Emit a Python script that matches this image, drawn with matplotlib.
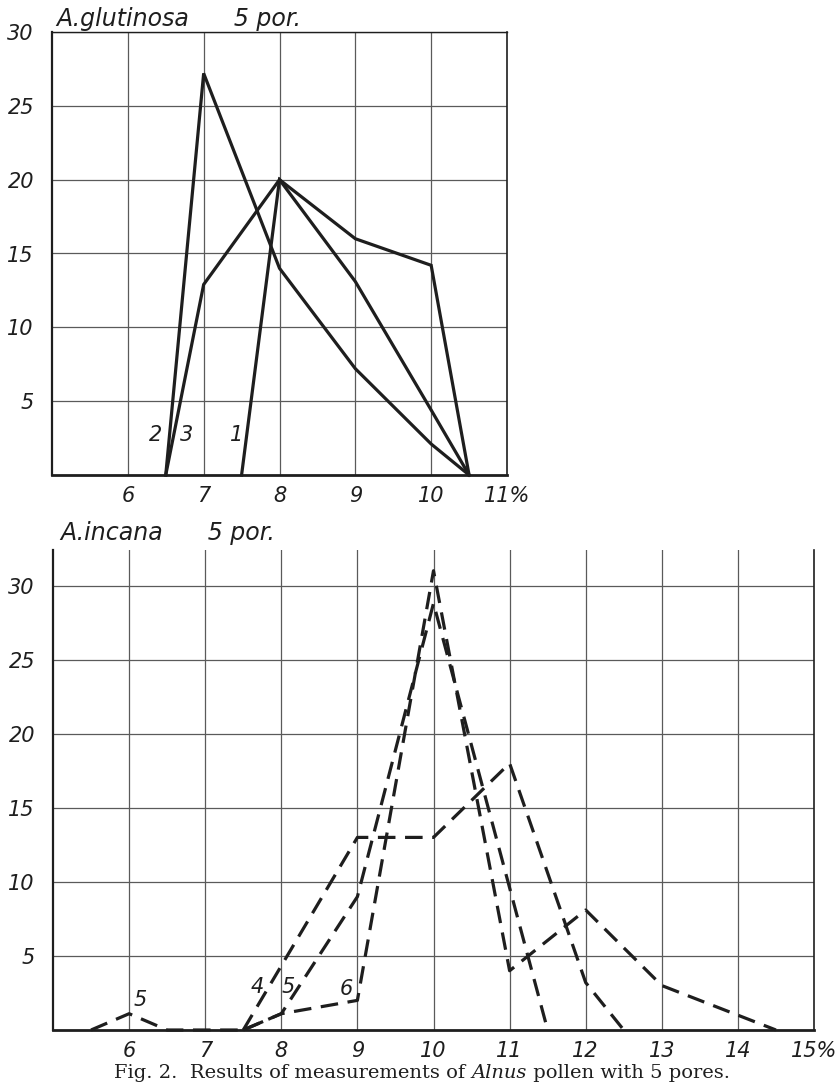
import matplotlib
matplotlib.use("Agg")
import matplotlib.pyplot as plt
from matplotlib.offsetbox import TextArea, HPacker, AnnotationBbox

# ---------------- data ----------------
# A. glutinosa, 5 pores (solid lines)
glut_x1 = [7.5, 8, 9, 10, 10.5]
glut_y1 = [0, 20.0, 16.0, 14.2, 0]
glut_x2 = [6.5, 7, 8, 9, 10, 10.5]
glut_y2 = [0, 27.2, 14.0, 7.2, 2.1, 0]
glut_x3 = [6.5, 7, 8, 9, 10, 10.5]
glut_y3 = [0, 12.9, 20.0, 13.1, 4.4, 0]
glut_labels = ["1", "2", "3"]

# A. incana, 5 pores (dashed lines)
inc_x4 = [7.5, 9, 10, 11, 12, 12.5]
inc_y4 = [0, 13.0, 13.0, 18.0, 3.2, 0]
inc_x5 = [5.5, 6, 6.5, 7.5, 8, 9, 10, 11.5]
inc_y5 = [0, 1.1, 0, 0, 1.1, 9.0, 28.8, 0]
inc_x6 = [7.5, 8, 9, 10, 11, 12, 13, 14.5]
inc_y6 = [0, 1.1, 2.0, 31.0, 4.0, 8.1, 3.0, 0]
inc_labels = ["4", "5", "6"]

top_xticks = [6, 7, 8, 9, 10, 11]
top_xticklabels = ["6", "7", "8", "9", "10", "11%"]
bot_xticks = [6, 7, 8, 9, 10, 11, 12, 13, 14, 15]
bot_xticklabels = ["6", "7", "8", "9", "10", "11", "12", "13", "14", "15%"]
yticks = [5, 10, 15, 20, 25, 30]

# ---------------- style ----------------
W, H = 838, 1086
fig = plt.figure(figsize=(W / 100, H / 100), dpi=100)
ink = "#1e1e1e"
gridc = "#5a5a5a"
lab_font = dict(family="DejaVu Sans", style="italic", fontsize=15, color=ink)


def frac(x0, y0, x1, y1):
    return [x0 / W, 1 - y1 / H, (x1 - x0) / W, (y1 - y0) / H]


def style_axes(ax, xmax, ymax, xticks, xticklabels, top_spine=True):
    ax.set_xlim(5, xmax)
    ax.set_ylim(0, ymax)
    for xv in range(6, int(xmax)):
        ax.axvline(xv, color=gridc, lw=0.9, zorder=1)
    for yv in yticks:
        ax.axhline(yv, color=gridc, lw=0.9, zorder=1)
    for s in ["left", "right", "bottom", "top"]:
        ax.spines[s].set_color(ink)
    ax.spines["left"].set_linewidth(1.6)
    ax.spines["right"].set_linewidth(1.2)
    ax.spines["bottom"].set_linewidth(2.0)
    ax.spines["top"].set_linewidth(1.0)
    ax.spines["top"].set_visible(top_spine)
    ax.set_xticks(xticks)
    ax.set_xticklabels(xticklabels, fontdict=lab_font)
    ax.set_yticks(yticks)
    ax.set_yticklabels([str(v) for v in yticks], fontdict=lab_font)
    ax.tick_params(axis="both", length=0)
    ax.tick_params(axis="x", pad=8)
    ax.tick_params(axis="y", pad=13)
    ax.set_facecolor("none")


# ---------------- top chart ----------------
ax1 = fig.add_axes(frac(52, 32, 507, 475))
style_axes(ax1, 11, 30, top_xticks, top_xticklabels)
for xs, ys in [(glut_x1, glut_y1), (glut_x2, glut_y2), (glut_x3, glut_y3)]:
    ax1.plot(xs, ys, color=ink, lw=2.3, solid_joinstyle="miter", zorder=3, clip_on=False)
ax1.text(7.43, 2.7, glut_labels[0], ha="center", va="center", **lab_font)
ax1.text(6.36, 2.7, glut_labels[1], ha="center", va="center", **lab_font)
ax1.text(6.78, 2.7, glut_labels[2], ha="center", va="center", **lab_font)
fig.text(56 / W, 1 - 19 / H, "A.glutinosa      5 por.", ha="left", va="center",
         family="DejaVu Sans", style="italic", fontsize=17, color=ink)

# ---------------- bottom chart ----------------
ax2 = fig.add_axes(frac(53, 550, 814, 1030))
style_axes(ax2, 15, 32.4, bot_xticks, bot_xticklabels, top_spine=False)
for xs, ys in [(inc_x4, inc_y4), (inc_x5, inc_y5), (inc_x6, inc_y6)]:
    ax2.plot(xs, ys, color=ink, lw=2.3, dashes=(5.5, 3), zorder=3, clip_on=False)
ax2.text(7.68, 2.9, inc_labels[0], ha="center", va="center", **lab_font)
ax2.text(8.09, 2.9, inc_labels[1], ha="center", va="center", **lab_font)
ax2.text(8.86, 2.8, inc_labels[2], ha="center", va="center", **lab_font)
ax2.text(6.14, 2.0, inc_labels[1], ha="center", va="center", **lab_font)
fig.text(60 / W, 1 - 533 / H, "A.incana      5 por.", ha="left", va="center",
         family="DejaVu Sans", style="italic", fontsize=17, color=ink)

# ---------------- caption ----------------
cap_kw = dict(family="DejaVu Serif", fontsize=14, color=ink)
parts = [
    TextArea("Fig. 2.  Results of measurements of ", textprops=cap_kw),
    TextArea("Alnus", textprops=dict(cap_kw, style="italic")),
    TextArea(" pollen with 5 pores.", textprops=cap_kw),
]
box = HPacker(children=parts, align="baseline", pad=0, sep=0)
ab = AnnotationBbox(box, (422 / W, 1 - 1073 / H), xycoords="figure fraction",
                    frameon=False, box_alignment=(0.5, 0.5))
fig.add_artist(ab)

fig.savefig("out.png", dpi=100)
